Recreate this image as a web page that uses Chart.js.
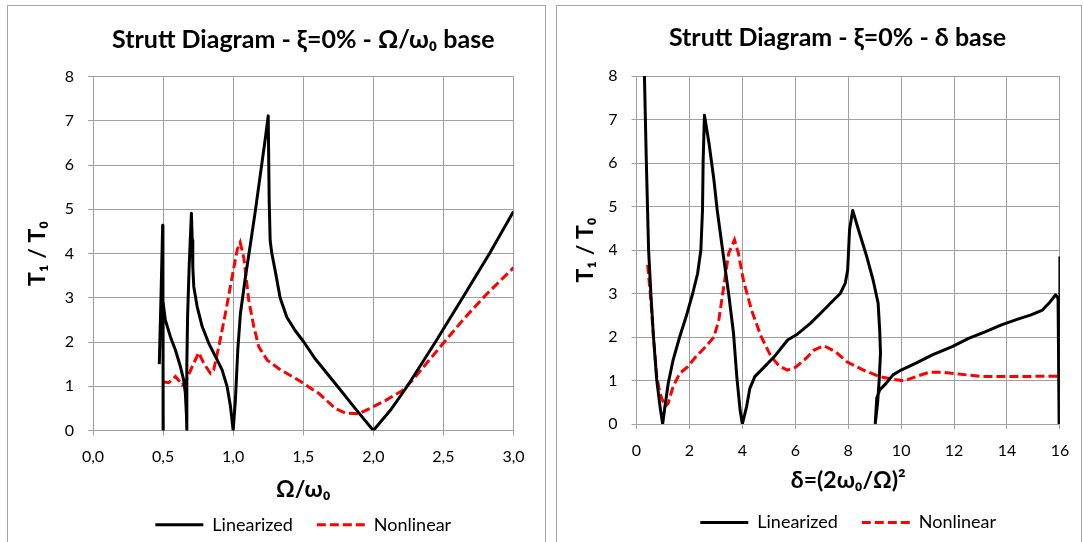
<!DOCTYPE html>
<html><head><meta charset="utf-8">
<script src="https://cdn.jsdelivr.net/npm/chart.js@4"></script>
<style>
html,body{margin:0;padding:0;background:#fff;overflow:hidden;width:1083px;height:542px;}
.panel{position:absolute;border:1px solid #a6a6a6;box-sizing:border-box;background:#fff;}
#p1{left:7px;top:5px;width:539px;height:545px;}
#p2{left:556px;top:5px;width:526px;height:545px;}
canvas{display:block;}
</style></head>
<body>
<div class="panel" id="p1"><canvas id="c1" width="537" height="543"></canvas></div>
<div class="panel" id="p2"><canvas id="c2" width="524" height="543"></canvas></div>
<script>
// ---- Left chart: Omega/omega0 base ----
const leftLinX = [0.473,0.485,0.497,0.499,0.501,0.500,0.516,0.552,0.588,0.624,0.647,0.659,0.666,0.669,0.670,0.675,0.686,0.702,0.708,0.712,0.719,0.743,0.779,0.826,0.874,0.921,0.957,0.981,1.000,1.016,1.033,1.052,1.088,1.124,1.159,1.195,1.231,1.250,1.257,1.264,1.276,1.304,1.335,1.383,1.442,1.504,1.585,1.744,1.870,2.000,2.120,2.242,2.443,2.637,2.829,3.000];
const leftLinY = [1.50,3.00,4.64,2.50,0.00,2.90,2.50,2.12,1.82,1.44,1.14,0.84,0.39,0.00,1.50,2.60,3.70,4.91,4.30,3.70,3.25,2.80,2.35,1.97,1.67,1.37,0.99,0.54,0.00,0.69,1.82,2.65,3.48,4.23,4.98,5.81,6.64,7.11,5.19,4.29,4.00,3.54,3.00,2.56,2.26,2.00,1.62,1.00,0.50,0.00,0.45,1.00,2.00,3.00,4.00,4.95];
const leftNonX = [0.497,0.540,0.588,0.615,0.636,0.660,0.707,0.754,0.790,0.838,0.861,0.897,0.945,0.997,1.030,1.050,1.076,1.111,1.147,1.183,1.243,1.329,1.470,1.614,1.732,1.803,1.898,1.969,2.088,2.206,2.277,2.396,2.514,2.656,2.799,3.000];
const leftNonY = [1.10,1.08,1.22,1.12,1.03,1.10,1.44,1.76,1.52,1.29,1.37,1.89,2.65,3.55,4.10,4.25,3.90,2.95,2.35,1.89,1.59,1.39,1.13,0.83,0.49,0.39,0.38,0.49,0.68,0.90,1.13,1.58,2.03,2.56,3.05,3.68];
const leftXTicks = ['0,0','0,5','1,0','1,5','2,0','2,5','3,0'];

// ---- Right chart: delta base ----
const rightLinX = [0.30,0.37,0.457,0.543,0.642,0.765,0.889,0.988,1.074,1.198,1.383,1.63,1.877,2.123,2.309,2.432,2.494,2.519,2.568,2.741,2.926,3.049,3.235,3.481,3.667,3.79,3.914,4.0,4.16,4.284,4.47,4.84,5.21,5.71,6.09,6.58,7.08,7.45,7.70,7.89,7.98,8.05,8.17,8.39,8.70,8.94,9.13,9.19,9.22,9.17,9.11,9.02,9.08,9.19,9.44,9.69,10.0,10.56,11.18,11.93,12.55,13.17,13.79,14.41,14.91,15.34,15.59,15.84,15.93,15.97,16.0];
const rightLinY = [8.00,6.07,4.00,3.00,2.00,1.01,0.40,0.00,0.40,0.93,1.47,2.00,2.47,3.00,3.46,4.00,4.92,6.07,7.10,6.45,5.61,4.92,4.08,3.00,2.08,1.09,0.32,0.00,0.40,0.82,1.09,1.32,1.55,1.93,2.07,2.32,2.62,2.85,3.00,3.24,3.54,4.46,4.91,4.46,3.85,3.31,2.78,2.16,1.63,1.01,0.48,0.00,0.60,0.78,0.94,1.13,1.24,1.40,1.59,1.78,1.97,2.12,2.28,2.41,2.51,2.62,2.78,2.97,2.89,0.00,3.85];
const rightNonX = [0.42,0.543,0.642,0.765,0.889,1.074,1.198,1.383,1.63,1.938,2.247,2.617,2.926,3.111,3.296,3.481,3.704,3.852,4.037,4.346,4.716,5.086,5.4,5.7,6.0,6.34,6.71,7.08,7.52,7.95,8.57,9.19,9.69,10.12,10.56,11.06,11.55,12.17,13.04,14.04,16.0];
const rightNonY = [3.66,2.85,2.00,1.09,0.70,0.40,0.48,0.86,1.16,1.32,1.55,1.78,2.00,2.39,3.16,3.92,4.23,3.92,3.31,2.62,2.00,1.55,1.33,1.24,1.30,1.47,1.70,1.80,1.66,1.43,1.24,1.09,1.03,0.99,1.09,1.19,1.19,1.15,1.09,1.09,1.10];
const rightXTicks = ['0','2','4','6','8','10','12','14','16'];

const yTicks = ['0','1','2','3','4','5','6','7','8'];
const seriesNames = ['Linearized','Nonlinear'];

const FONT = 'Lato';
Chart.defaults.font.family = FONT;
Chart.defaults.color = '#000';

function pts(xs, ys){ return xs.map((x,i)=>({x:x, y:ys[i]})); }

function legendLabels(chart){
  const items = Chart.defaults.plugins.legend.labels.generateLabels(chart);
  items.forEach(it => {
    const ds = chart.data.datasets[it.datasetIndex];
    it.lineDash = ds.borderDash || [];
    it.lineWidth = ds.borderWidth;
    it.strokeStyle = ds.borderColor;
    it.fillStyle = ds.borderColor;
  });
  return items;
}

function makeChart(id, o){
  return new Chart(document.getElementById(id), {
    type: 'scatter',
    data: { datasets: [
      { label: seriesNames[0], data: pts(o.linX,o.linY), showLine: true, borderColor: '#000', backgroundColor: '#000', borderWidth: 3, pointRadius: 0, tension: 0, borderJoinStyle: 'round' },
      { label: seriesNames[1], data: pts(o.nonX,o.nonY), showLine: true, borderColor: '#ff0000', backgroundColor: '#ff0000', borderWidth: 3, borderDash: [9,4], pointRadius: 0, tension: 0 }
    ]},
    options: {
      responsive: false, animation: false, devicePixelRatio: 1,
      layout: { padding: o.pad },
      plugins: {
        tooltip: { enabled: false },
        title: { display: true, text: o.title, fullSize: o.titleFull, color: '#000',
          font: { family: FONT, size: 25, weight: 'bold' }, padding: o.titlePad },
        legend: { position: 'bottom', fullSize: false,
          labels: { usePointStyle: true, pointStyle: 'line', pointStyleWidth: 48, padding: 24, color: '#000',
            font: { family: FONT, size: 18 }, generateLabels: legendLabels } }
      },
      scales: {
        x: { type: 'linear', min: 0, max: o.xMax,
          ticks: { stepSize: o.xStep, padding: o.xTickPad, color: '#000', font: { size: 16 },
            callback: (v, i) => o.xTicks[i] },
          grid: { color: '#a0a0a0', lineWidth: 1, tickLength: 5 },
          border: { color: '#a0a0a0' },
          title: { display: true, text: o.xTitle, color: '#000', font: { size: 23, weight: 'bold' }, padding: { top: 0, bottom: o.xTitlePadB } },
          afterFit: s => { s.height = o.xH; } },
        y: { type: 'linear', min: 0, max: 8,
          ticks: { stepSize: 1, padding: 14, color: '#000', font: { size: 16 },
            callback: (v, i) => yTicks[i] },
          grid: { color: '#a0a0a0', lineWidth: 1, tickLength: 5 },
          border: { color: '#a0a0a0' },
          title: { display: true, text: 'T₁ / T₀', color: '#000', font: { size: 23, weight: 'bold' }, padding: { top: o.yTitlePadT, bottom: 0 } },
          afterFit: s => { s.width = o.yW; } }
      }
    }
  });
}

makeChart('c1', {
  linX: leftLinX, linY: leftLinY, nonX: leftNonX, nonY: leftNonY,
  xMax: 3, xStep: 0.5, xTicks: leftXTicks,
  title: 'Strutt Diagram - ξ=0% - Ω/ω₀ base', titleFull: false,
  titlePad: { top: 19, bottom: 21.5 },
  pad: { left: 0, right: 31.5, top: 0, bottom: 5.2 },
  xTitle: 'Ω/ω₀', xH: 61.3, xTickPad: 11.6, xTitlePadB: -12,
  yW: 85, yTitlePadT: 16.2
});

makeChart('c2', {
  linX: rightLinX, linY: rightLinY, nonX: rightNonX, nonY: rightNonY,
  xMax: 16, xStep: 2, xTicks: rightXTicks,
  title: 'Strutt Diagram - ξ=0% - δ base', titleFull: true,
  titlePad: { top: 17, bottom: 23 },
  pad: { left: 52, right: 15, top: 0, bottom: 7.4 },
  xTitle: 'δ=(2ω₀/Ω)²', xH: 65.6, xTickPad: 11.8, xTitlePadB: -4.7,
  yW: 27.5, yTitlePadT: -37.3
});
</script>
</body></html>
